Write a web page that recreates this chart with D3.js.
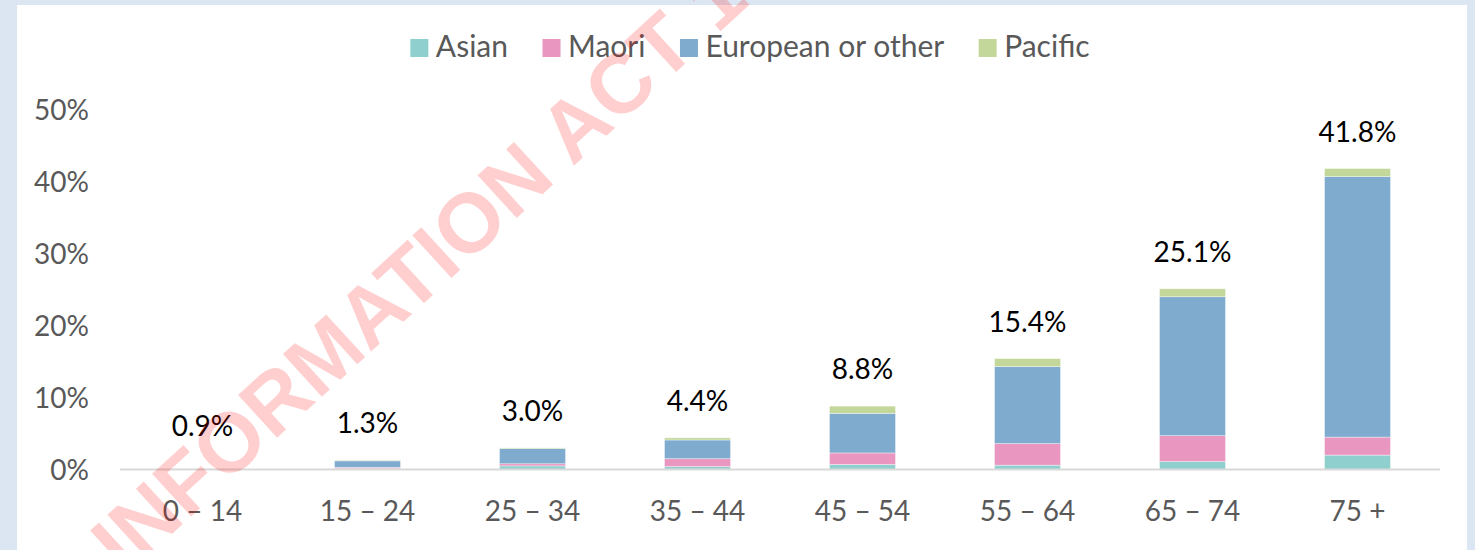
<!DOCTYPE html>
<html>
<head>
<meta charset="utf-8">
<script src="https://cdn.jsdelivr.net/npm/d3@7"></script>
<style>
  body { margin: 0; background: #dce6f2; }
  svg { display: block; }
  .tick-label { font-family: Lato, sans-serif; font-size: 28px; fill: #595959; }
  .data-label { font-family: Lato, sans-serif; font-size: 28px; fill: #000; }
  .legend-text { font-family: Lato, sans-serif; font-size: 30px; fill: #595959; }
</style>
</head>
<body>
<div id="chart"></div>
<script>
// age bands and series, values in %
var categories = ["0 – 14", "15 – 24", "25 – 34", "35 – 44", "45 – 54", "55 – 64", "65 – 74", "75 +"];
var seriesNames = ["Asian", "Maori", "European or other", "Pacific"];
var asian    = [0.02, 0.1, 0.5, 0.4, 0.7, 0.6, 1.1, 2.0];
var maori    = [0.02, 0.2, 0.3, 1.1, 1.6, 3.0, 3.6, 2.5];
var european = [0.03, 0.9, 2.1, 2.6, 5.5, 10.7, 19.3, 36.2];
var pacific  = [0.03, 0.1, 0.1, 0.3, 1.0, 1.1, 1.1, 1.1];
var totals   = [0.9, 1.3, 3.0, 4.4, 8.8, 15.4, 25.1, 41.8];
var yTicks   = [0, 10, 20, 30, 40, 50];

var color = ["#8fd0cf", "#e996c0", "#7facce", "#c4d79b"];

var width = 1475,
    height = 550;

var svg = d3.select("#chart").append("svg")
    .attr("width", width)
    .attr("height", height);

// white chart panel on the light blue page
svg.append("rect")
    .attr("x", 17)
    .attr("y", 5)
    .attr("width", 1450)
    .attr("height", 545)
    .attr("fill", "#fff");

var x = d3.scaleBand()
    .domain(categories)
    .range([120, 1440])
    .padding(0);

var y = d3.scaleLinear()
    .domain([0, 50])
    .range([469.5, 109.5]);

var rows = categories.map(function (c, i) {
    return { cat: c, "Asian": asian[i], "Maori": maori[i], "European or other": european[i], "Pacific": pacific[i] };
});

var stacked = d3.stack().keys(seriesNames)(rows);

var barW = x.bandwidth() * 0.4;

svg.append("g")
    .selectAll("g")
    .data(stacked)
    .enter().append("g")
    .attr("fill", function (d, i) { return color[i]; })
    .selectAll("rect")
    .data(function (d) { return d; })
    .enter().append("rect")
    .attr("x", function (d) { return x(d.data.cat) + (x.bandwidth() - barW) / 2; })
    .attr("y", function (d) { return y(d[1]); })
    .attr("width", barW)
    .attr("height", function (d) { return y(d[0]) - y(d[1]); })
    .attr("stroke", "#fff")
    .attr("stroke-opacity", 0.5)
    .attr("stroke-width", 0.75);

// baseline
svg.append("line")
    .attr("x1", x.range()[0])
    .attr("x2", x.range()[1])
    .attr("y1", y(0))
    .attr("y2", y(0))
    .attr("stroke", "#d9d9d9")
    .attr("stroke-width", 2);

// y axis labels (no gridlines in the original)
var yAxis = d3.axisLeft(y)
    .tickValues(yTicks)
    .tickSize(0)
    .tickPadding(0)
    .tickFormat(function (d) { return d + "%"; });

svg.append("g")
    .attr("transform", "translate(89,0)")
    .call(yAxis)
    .call(function (g) { g.select(".domain").remove(); })
    .selectAll("text")
    .attr("class", "tick-label")
    .attr("font-family", null)
    .attr("font-size", null)
    .attr("fill", null)
    .attr("dy", "0.34em");

// x axis labels
var xAxis = d3.axisBottom(x).tickSize(0).tickPadding(0);
svg.append("g")
    .attr("transform", "translate(0," + 521 + ")")
    .call(xAxis)
    .call(function (g) { g.select(".domain").remove(); })
    .selectAll("text")
    .attr("class", "tick-label")
    .attr("font-family", null)
    .attr("font-size", null)
    .attr("fill", null)
    .attr("dy", 0);

// total labels above each bar
svg.append("g")
    .selectAll("text")
    .data(totals)
    .enter().append("text")
    .attr("class", "data-label")
    .attr("text-anchor", "middle")
    .attr("x", function (d, i) { return x(categories[i]) + x.bandwidth() / 2; })
    .attr("y", function (d) { return y(d) - 27; })
    .text(function (d) { return d.toFixed(1) + "%"; });

// legend, centred over the plot
var legend = svg.append("g").attr("transform", "translate(0,57)");
var items = legend.selectAll("g")
    .data(seriesNames)
    .enter().append("g");
items.append("rect")
    .attr("y", -18)
    .attr("width", 18)
    .attr("height", 18)
    .attr("fill", function (d, i) { return color[i]; });
items.append("text")
    .attr("class", "legend-text")
    .attr("x", 25.5)
    .text(function (d) { return d; });

var pos = [], cx = 0;
items.each(function () {
    pos.push(cx);
    cx += 25.5 + this.querySelector("text").getComputedTextLength() + 34.5;
});
var total = cx - 34.5;
var start = 750 - total / 2;
items.attr("transform", function (d, i) { return "translate(" + (start + pos[i]) + ",0)"; });

// watermark stamped over the chart
svg.append("text")
    .attr("transform", "translate(125,577) rotate(-42.5)")
    .attr("font-family", "Liberation Sans, Arial, sans-serif")
    .attr("font-weight", "bold")
    .attr("font-size", 84)
    .attr("fill", "#ff0000")
    .attr("fill-opacity", 0.19)
    .text("INFORMATION ACT 1982");
</script>
</body>
</html>
